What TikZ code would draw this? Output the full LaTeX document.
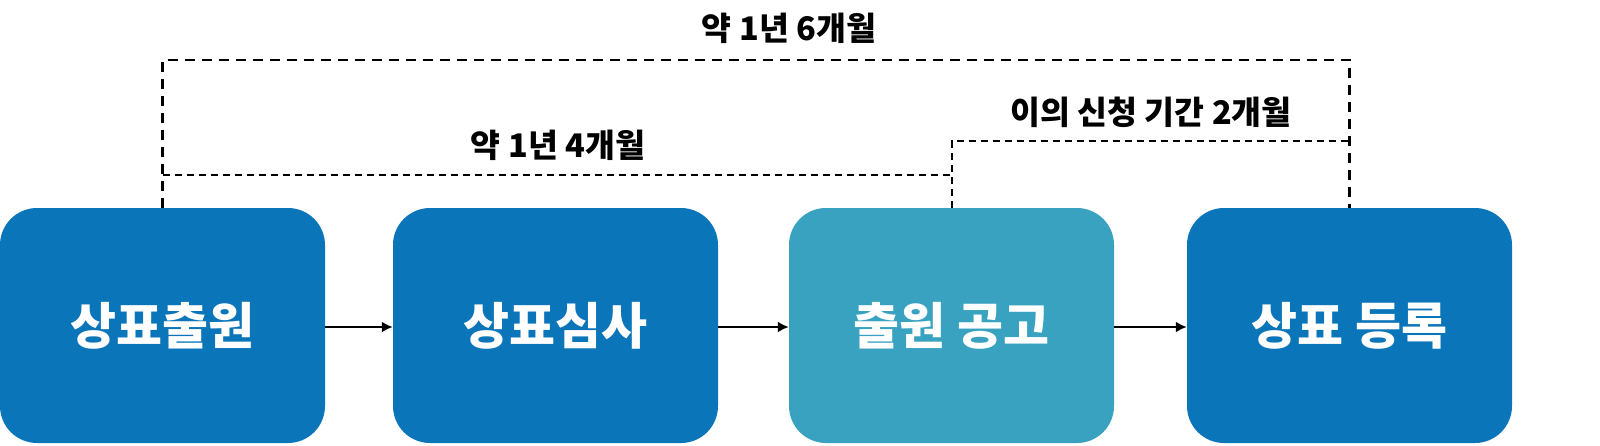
\documentclass[tikz,border=0pt]{standalone}
\usepackage{fontspec}
\newfontfamily\kr{Noto Sans CJK KR}
\usetikzlibrary{arrows.meta}
\definecolor{boxblue}{RGB}{11,117,185}
\definecolor{boxteal}{RGB}{56,162,192}
\begin{document}
\begin{tikzpicture}[x=1pt,y=-1pt,
  stagebox/.style={rectangle, rounded corners=37pt, minimum width=325pt, minimum height=235pt, inner sep=0pt, text=white, font=\kr\bfseries\fontsize{50}{54}\selectfont},
  flowarrow/.style={line width=2.6pt, -{Latex[length=11pt,width=11pt]}},
  longdash/.style={line width=2.4pt, dash pattern=on 10pt off 7pt},
  shortdash/.style={line width=2pt, dash pattern=on 7pt off 5pt},
  spanlabel/.style={font=\kr\bfseries\fontsize{32.5}{36}\selectfont, inner sep=0pt}]
\useasboundingbox (0,0) rectangle (1600,445);
\node[stagebox, fill=boxblue] (b1) at (162.5,325.5) {상표출원};
\node[stagebox, fill=boxblue] (b2) at (555.5,325.5) {상표심사};
\node[stagebox, fill=boxteal] (b3) at (951.5,325.5) {출원 공고};
\node[stagebox, fill=boxblue] (b4) at (1349.5,325.5) {상표 등록};
\draw[flowarrow] (b1.east |- 0,327) -- (b2.west |- 0,327);
\draw[flowarrow] (b2.east |- 0,327) -- (b3.west |- 0,327);
\draw[flowarrow] (b3.east |- 0,327) -- (b4.west |- 0,327);
\coordinate (t1) at (b1.north |- 0,60);
\coordinate (t4) at (b4.north |- 0,60);
\coordinate (m1) at (b1.north |- 0,175);
\coordinate (m3) at (b3.north |- 0,175);
\coordinate (r3) at (b3.north |- 0,141);
\coordinate (r4) at (b4.north |- 0,141);
\draw[longdash] (b1.north) -- (t1) -- (t4) -- (b4.north);
\draw[shortdash] (m1) -- (m3);
\draw[shortdash] (b3.north) -- (r3) -- (r4);
\node[spanlabel] (l1) at (789,28) {약 1년 6개월};
\node[spanlabel] (l2) at (558,145) {약 1년 4개월};
\node[spanlabel] (l3) at (1151,112.5) {이의 신청 기간 2개월};
\end{tikzpicture}
\end{document}
